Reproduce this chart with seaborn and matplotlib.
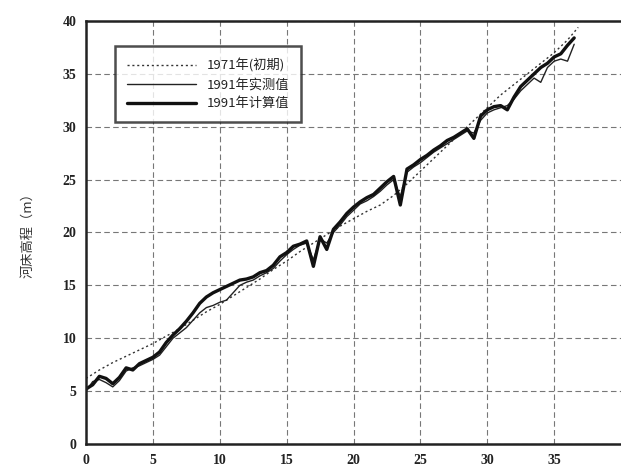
import matplotlib
matplotlib.use("Agg")
import matplotlib.pyplot as plt
import seaborn as sns
import pandas as pd
from matplotlib.ticker import MultipleLocator

# 沿程距离 (km) 与河床高程 (m)
x_1991 = [0.0, 0.5, 1.0, 1.5, 2.0, 2.5, 3.0, 3.5, 4.0, 4.5, 5.0, 5.5, 6.0, 6.5,
          7.0, 7.5, 8.0, 8.5, 9.0, 9.5, 10.0, 10.5, 11.0, 11.5, 12.0, 12.5,
          13.0, 13.5, 14.0, 14.5, 15.0, 15.5, 16.0, 16.5, 17.0, 17.5, 18.0,
          18.5, 19.0, 19.5, 20.0, 20.5, 21.0, 21.5, 22.0, 22.5, 23.0, 23.5,
          24.0, 24.5, 25.0, 25.5, 26.0, 26.5, 27.0, 27.5, 28.0, 28.5, 29.0,
          29.5, 30.0, 30.5, 31.0, 31.5, 32.0, 32.5, 33.0, 33.5, 34.0, 34.5,
          35.0, 35.5, 36.0, 36.5]

calc_1991 = [5.2, 5.6, 6.4, 6.2, 5.7, 6.3, 7.2, 7.0, 7.6, 7.9, 8.2, 8.7, 9.6, 10.3,
             10.9, 11.6, 12.4, 13.3, 13.9, 14.3, 14.6, 14.9, 15.2, 15.5, 15.6, 15.8,
             16.2, 16.4, 16.9, 17.7, 18.1, 18.7, 18.9, 19.2, 16.8, 19.6, 18.4,
             20.3, 21.0, 21.8, 22.4, 22.9, 23.3, 23.6, 24.2, 24.8, 25.3, 22.6,
             26.0, 26.4, 26.9, 27.3, 27.8, 28.2, 28.7, 29.0, 29.4, 29.8, 28.9,
             31.0, 31.6, 31.9, 32.0, 31.6, 32.8, 33.8, 34.4, 35.0, 35.6, 36.0,
             36.6, 36.9, 37.7, 38.4]

meas_1991 = [5.0, 5.9, 6.1, 5.8, 5.4, 6.0, 6.9, 7.2, 7.4, 7.7, 8.0, 8.4, 9.2, 10.0,
             10.5, 11.0, 11.7, 12.4, 12.9, 13.1, 13.4, 13.6, 14.3, 15.0, 15.3, 15.5,
             15.9, 16.2, 16.6, 17.3, 17.9, 18.4, 18.8, 19.0, 17.4, 19.4, 19.0,
             20.0, 20.7, 21.5, 22.1, 22.7, 23.0, 23.4, 23.9, 24.5, 25.0, 23.4,
             25.7, 26.2, 26.6, 27.1, 27.6, 28.0, 28.4, 28.8, 29.2, 29.6, 29.4,
             30.6, 31.3, 31.6, 31.8, 32.0, 32.6, 33.4, 34.0, 34.6, 34.2, 35.6,
             36.2, 36.4, 36.2, 37.8]

x_1971 = [0, 1, 2, 3, 4, 5, 6, 7, 8, 9, 10, 11, 12, 13, 14, 15, 16, 17, 18, 19,
          20, 21, 22, 23, 24, 25, 26, 27, 28, 29, 30, 31, 32, 33, 34, 35, 36, 36.8]
init_1971 = [6.2, 7.0, 7.7, 8.3, 8.9, 9.5, 10.2, 10.9, 11.7, 12.5, 13.2, 14.0,
             14.8, 15.6, 16.5, 17.3, 18.2, 19.0, 19.8, 20.6, 21.3, 22.0, 22.6,
             23.5, 24.6, 25.8, 27.0, 28.2, 29.4, 30.6, 31.8, 33.0, 34.0, 35.0,
             36.0, 37.0, 38.2, 39.4]

labels = ["1971年(初期)", "1991年实测值", "1991年计算值"]
x_ticks = [0, 5, 10, 15, 20, 25, 30, 35]
y_ticks = [0, 5, 10, 15, 20, 25, 30, 35, 40]

sns.set_style("white")
plt.rcParams["font.family"] = ["Noto Sans CJK SC", "DejaVu Sans"]

fig = plt.figure(figsize=(6.21, 4.74), dpi=100)
ax = fig.add_axes([0.1385, 0.0633, 0.8615, 0.8924])

df71 = pd.DataFrame({"x": x_1971, "y": init_1971})
dfm = pd.DataFrame({"x": x_1991, "y": meas_1991})
dfc = pd.DataFrame({"x": x_1991, "y": calc_1991})

sns.lineplot(data=df71, x="x", y="y", ax=ax, color="#333333", lw=1.0,
             linestyle=(0, (1.5, 2.0)), label=labels[0], sort=False)
sns.lineplot(data=dfm, x="x", y="y", ax=ax, color="#222222", lw=1.0,
             label=labels[1], sort=False)
sns.lineplot(data=dfc, x="x", y="y", ax=ax, color="#111111", lw=2.4,
             label=labels[2], sort=False)

ax.set_xlim(0, 40)
ax.set_ylim(0, 40)
ax.set_xticks(x_ticks)
ax.set_yticks(y_ticks)
ax.xaxis.set_minor_locator(MultipleLocator(1))
ax.yaxis.set_minor_locator(MultipleLocator(1))
ax.tick_params(which="major", direction="in", length=7, width=1.4, color="#222222",
               labelsize=10, pad=7)
ax.tick_params(which="minor", direction="in", length=3.5, width=1.2, color="#222222")
for lab in ax.get_xticklabels() + ax.get_yticklabels():
    lab.set_family("Liberation Serif")
    lab.set_fontweight("bold")
    lab.set_color("#222222")

ax.grid(True, which="major", color="#777777", lw=0.8, linestyle=(0, (5, 3)))
for side in ["left", "bottom", "top"]:
    ax.spines[side].set_color("#222222")
    ax.spines[side].set_linewidth(1.8)
ax.spines["right"].set_visible(False)

ax.set_xlabel("")
ax.set_ylabel("河床高程（m）", fontsize=9.5, color="#333333", labelpad=20)

leg = ax.legend(loc="upper left", bbox_to_anchor=(0.055, 0.94), frameon=True,
                fancybox=False, edgecolor="#222222", fontsize=9.5,
                handlelength=5.2, borderpad=0.9, labelspacing=0.45,
                handletextpad=0.8, borderaxespad=0.0)
leg.get_frame().set_linewidth(1.8)
for t in leg.get_texts():
    t.set_color("#222222")

fig.savefig("out.png", dpi=100)
